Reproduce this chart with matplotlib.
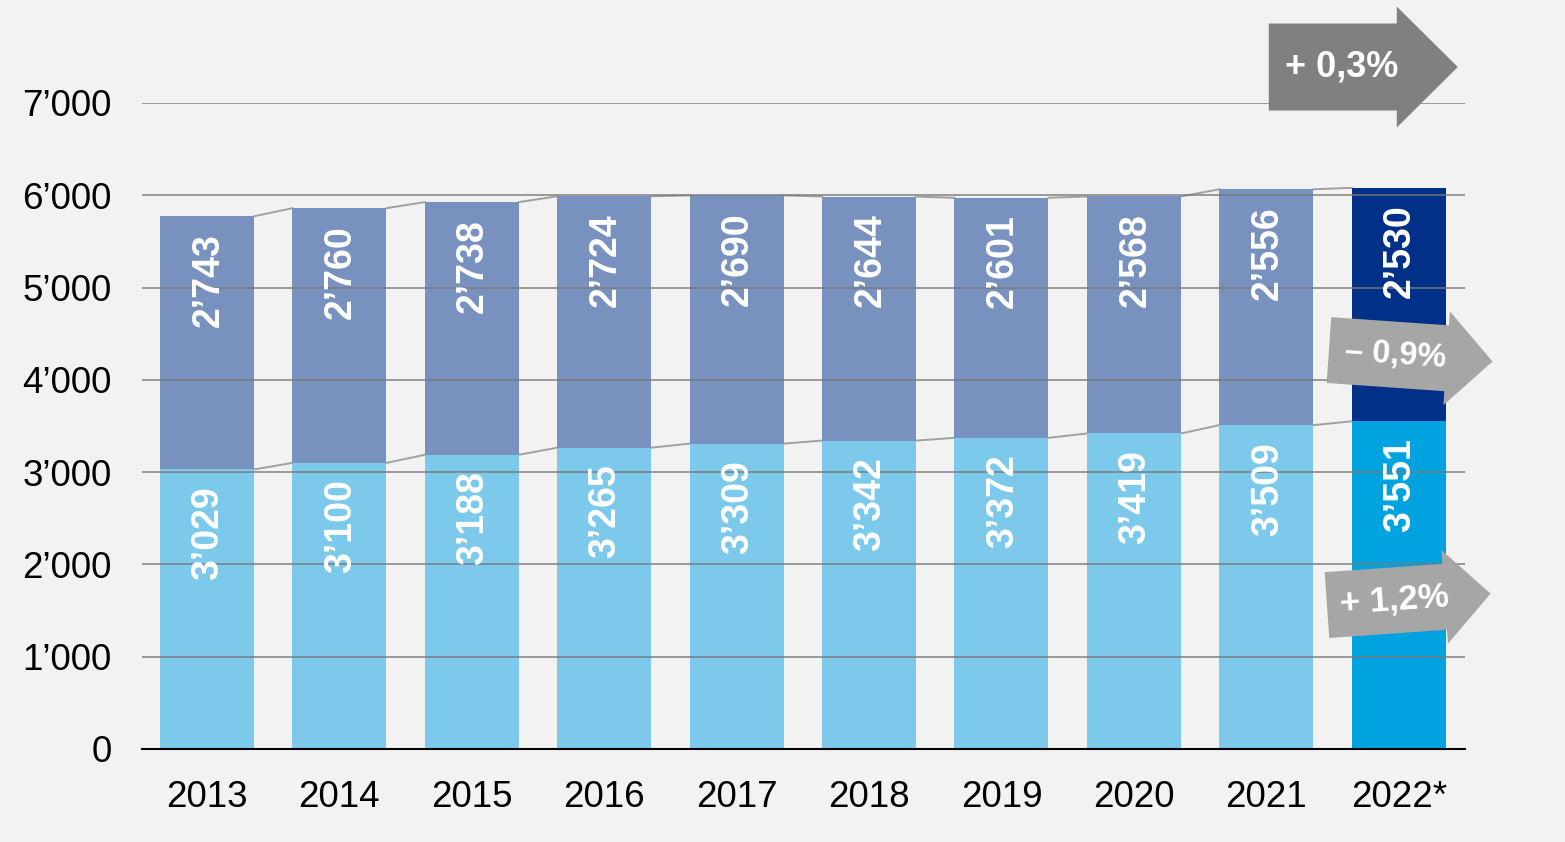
import numpy as np
import matplotlib
matplotlib.use("Agg")
import matplotlib.pyplot as plt
from matplotlib.patches import Polygon
from matplotlib.ticker import FixedLocator

years = ["2013", "2014", "2015", "2016", "2017", "2018", "2019", "2020", "2021", "2022*"]
lower = [3029, 3100, 3188, 3265, 3309, 3342, 3372, 3419, 3509, 3551]
upper = [2743, 2760, 2738, 2724, 2690, 2644, 2601, 2568, 2556, 2530]
yticks = [0, 1000, 2000, 3000, 4000, 5000, 6000, 7000]
ytick_labels = ["0", "1’000", "2’000", "3’000", "4’000", "5’000", "6’000", "7’000"]
changes = ["+ 0,3%", "– 0,9%", "+ 1,2%"]

def fmt(v):
    return f"{v // 1000}’{v % 1000:03d}"

plt.rcParams['font.family'] = ['Liberation Sans', 'DejaVu Sans']
BG = '#F2F2F2'
fig = plt.figure(figsize=(15.65, 8.42), dpi=100, facecolor=BG)
ax = fig.add_axes([142/1565, 93/842, (1465-142)/1565, (749-103)/842])
ax.set_facecolor(BG)

x = np.arange(len(years))
w = 0.71
lc = ['#7DC9EB'] * (len(years) - 1) + ['#00A3E0']
uc = ['#7891BF'] * (len(years) - 1) + ['#003087']
ax.bar(x, lower, width=w, color=lc, zorder=2)
ax.bar(x, upper, width=w, bottom=lower, color=uc, zorder=2)

tot = np.array(lower) + np.array(upper)
for i in range(len(years) - 1):
    ax.plot([x[i] + w/2, x[i+1] - w/2], [lower[i], lower[i+1]], color='#A0A0A0', lw=1.4, zorder=1.5)
    ax.plot([x[i] + w/2, x[i+1] - w/2], [tot[i], tot[i+1]], color='#A0A0A0', lw=1.4, zorder=1.5)

for i in range(len(years)):
    ax.annotate(fmt(lower[i]), (x[i], lower[i]), xytext=(1, -12), textcoords='offset points',
                rotation=90, ha='center', va='top', color='white', fontsize=27,
                fontweight='bold', zorder=4)
    ax.annotate(fmt(upper[i]), (x[i], tot[i]), xytext=(1, -12), textcoords='offset points',
                rotation=90, ha='center', va='top', color='white', fontsize=27,
                fontweight='bold', zorder=4)

ax.set_xlim(-0.49, len(years) - 0.5)
ax.set_ylim(0, 7000)
ax.yaxis.set_major_locator(FixedLocator(yticks))
ax.set_yticklabels(ytick_labels)
ax.set_xticks(x)
ax.set_xticklabels(years)
ax.tick_params(axis='both', length=0, labelsize=26.5, colors='black')
ax.tick_params(axis='y', pad=22)
ax.tick_params(axis='x', pad=22)
for s in ['top', 'right', 'left']:
    ax.spines[s].set_visible(False)
ax.spines['bottom'].set_color('black')
ax.spines['bottom'].set_linewidth(1.5)
ax.spines['bottom'].set_zorder(5)
for yt in yticks[1:]:
    ax.axhline(yt, color='#7A7A7A', lw=1.3, alpha=0.8, zorder=3)

# arrows, built in pixel space around an anchor in data coordinates
fig.canvas.draw()

def arrow(xd, yd, body_l, body_r, bh, tip, hh, angle, color, text, fs, tx):
    cx, cy = ax.transData.transform((xd, yd))
    pts = np.array([[body_l, bh], [body_r, bh], [body_r, hh], [tip, 0],
                    [body_r, -hh], [body_r, -bh], [body_l, -bh]], dtype=float)
    a = np.deg2rad(angle)
    R = np.array([[np.cos(a), -np.sin(a)], [np.sin(a), np.cos(a)]])
    pts = pts @ R.T + [cx, cy]
    fig.patches.append(Polygon(pts, closed=True, facecolor=color, edgecolor='none',
                               transform=None, zorder=6))
    tp = np.array([tx, 0]) @ R.T + [cx, cy]
    fig.text(tp[0] / fig.bbox.width, tp[1] / fig.bbox.height, text, color='white',
             fontsize=fs, fontweight='bold', ha='center', va='center',
             rotation=angle, zorder=7)

last = len(years) - 1
arrow(last, 7390, -130, -2, 43.5, 59, 60.5, 0, '#808080', changes[0], 26, -57)
arrow(last, 4270, -70, 48, 33, 94, 47, -4, '#A6A6A6', changes[1], 23.5, -3)
arrow(last, 1614, -72, 46, 33, 92, 47, 4, '#A6A6A6', changes[2], 25, -4)

fig.savefig("out.png", dpi=100, facecolor=BG)
